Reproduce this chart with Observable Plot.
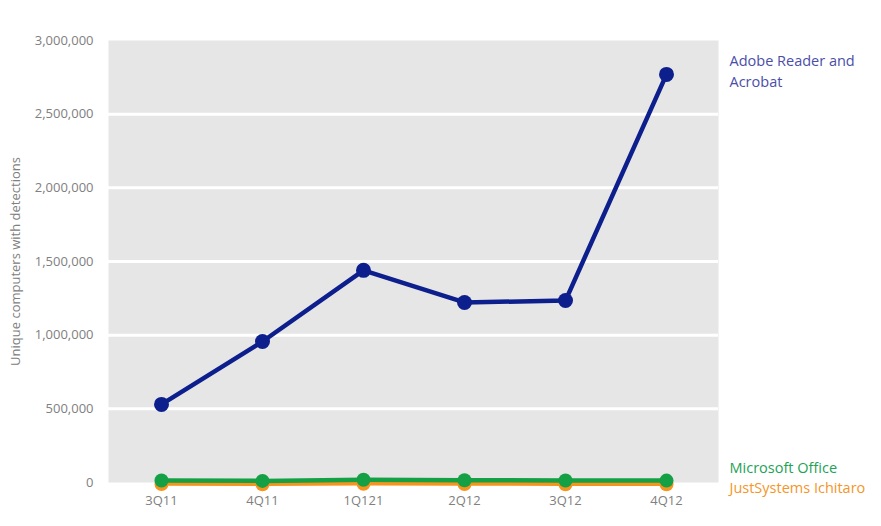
<!DOCTYPE html>
<html>
<head>
<meta charset="utf-8">
<script src="https://cdn.jsdelivr.net/npm/d3@7"></script>
<script src="https://cdn.jsdelivr.net/npm/@observablehq/plot@0.6"></script>
<style>
  html, body { margin: 0; padding: 0; background: #fff; }
  #chart { width: 881px; height: 526px; }
</style>
</head>
<body>
<div id="chart"></div>
<script>
const quarters = ["3Q11", "4Q11", "1Q121", "2Q12", "3Q12", "4Q12"];
const adobe = [530000, 957000, 1440000, 1222000, 1235000, 2770000];
const office = [14000, 11000, 19000, 15000, 14000, 13000];
const ichitaro = [3000, 2000, 5000, 3000, 2000, 2000];
const seriesNames = ["Adobe Reader and Acrobat", "Microsoft Office", "JustSystems Ichitaro"];
const yTicks = [0, 500000, 1000000, 1500000, 2000000, 2500000, 3000000];

const lineColors = {"Adobe Reader and Acrobat": "#0c1f8c", "Microsoft Office": "#15a045", "JustSystems Ichitaro": "#f7941d"};
const textColors = {"Adobe Reader and Acrobat": "#4a4ea8", "Microsoft Office": "#22a257", "JustSystems Ichitaro": "#f4962a"};

const rows = [];
[ichitaro, office, adobe].forEach((vals, k) => {
  const name = seriesNames[2 - k];
  vals.forEach((v, i) => rows.push({series: name, q: quarters[i], v}));
});
const ser = s => rows.filter(r => r.series === s);

const labels = [
  {series: seriesNames[0], text: "Adobe Reader and\nAcrobat", q: quarters[5], v: adobe[5], dy: -5},
  {series: seriesNames[1], text: "Microsoft Office", q: quarters[5], v: office[5], dy: -14},
  {series: seriesNames[2], text: "JustSystems Ichitaro", q: quarters[5], v: ichitaro[5], dy: 4}
];

const font = "'Open Sans', 'Noto Sans', sans-serif";

const chart = Plot.plot({
  width: 881,
  height: 526,
  marginLeft: 108,
  marginRight: 163,
  marginTop: 40,
  marginBottom: 44,
  style: {fontFamily: font, fontSize: "13px", color: "#808080", background: "#fff", overflow: "visible"},
  x: {type: "point", domain: quarters, padding: 0.5, label: null, tickSize: 0, tickPadding: 13},
  y: {domain: [0, 3000000], ticks: yTicks, tickFormat: d3.format(","), tickSize: 0, tickPadding: 15,
      label: "Unique computers with detections", labelAnchor: "center", labelOffset: 98, labelArrow: "none"},
  marks: [
    Plot.frame({fill: "#e6e6e6", stroke: null}),
    Plot.gridY(yTicks.slice(1, -1), {stroke: "#ffffff", strokeOpacity: 1, strokeWidth: 3}),
    Plot.line(ser(seriesNames[2]), {x: "q", y: "v", stroke: lineColors[seriesNames[2]], strokeWidth: 4.5, dy: 1.5}),
    Plot.dot(ser(seriesNames[2]), {x: "q", y: "v", fill: lineColors[seriesNames[2]], r: 7, dy: 2}),
    Plot.line(ser(seriesNames[1]), {x: "q", y: "v", stroke: lineColors[seriesNames[1]], strokeWidth: 4.5}),
    Plot.dot(ser(seriesNames[1]), {x: "q", y: "v", fill: lineColors[seriesNames[1]], r: 7}),
    Plot.line(ser(seriesNames[0]), {x: "q", y: "v", stroke: lineColors[seriesNames[0]], strokeWidth: 4.5}),
    Plot.dot(ser(seriesNames[0]), {x: "q", y: "v", fill: lineColors[seriesNames[0]], r: 7.5}),
    ...labels.map(l => Plot.text([l], {x: "q", y: "v", text: "text", dx: 63, dy: l.dy, textAnchor: "start",
      fill: textColors[l.series], fontSize: 14.5, lineHeight: 1.45}))
  ]
});
document.getElementById("chart").appendChild(chart);
</script>
</body>
</html>
